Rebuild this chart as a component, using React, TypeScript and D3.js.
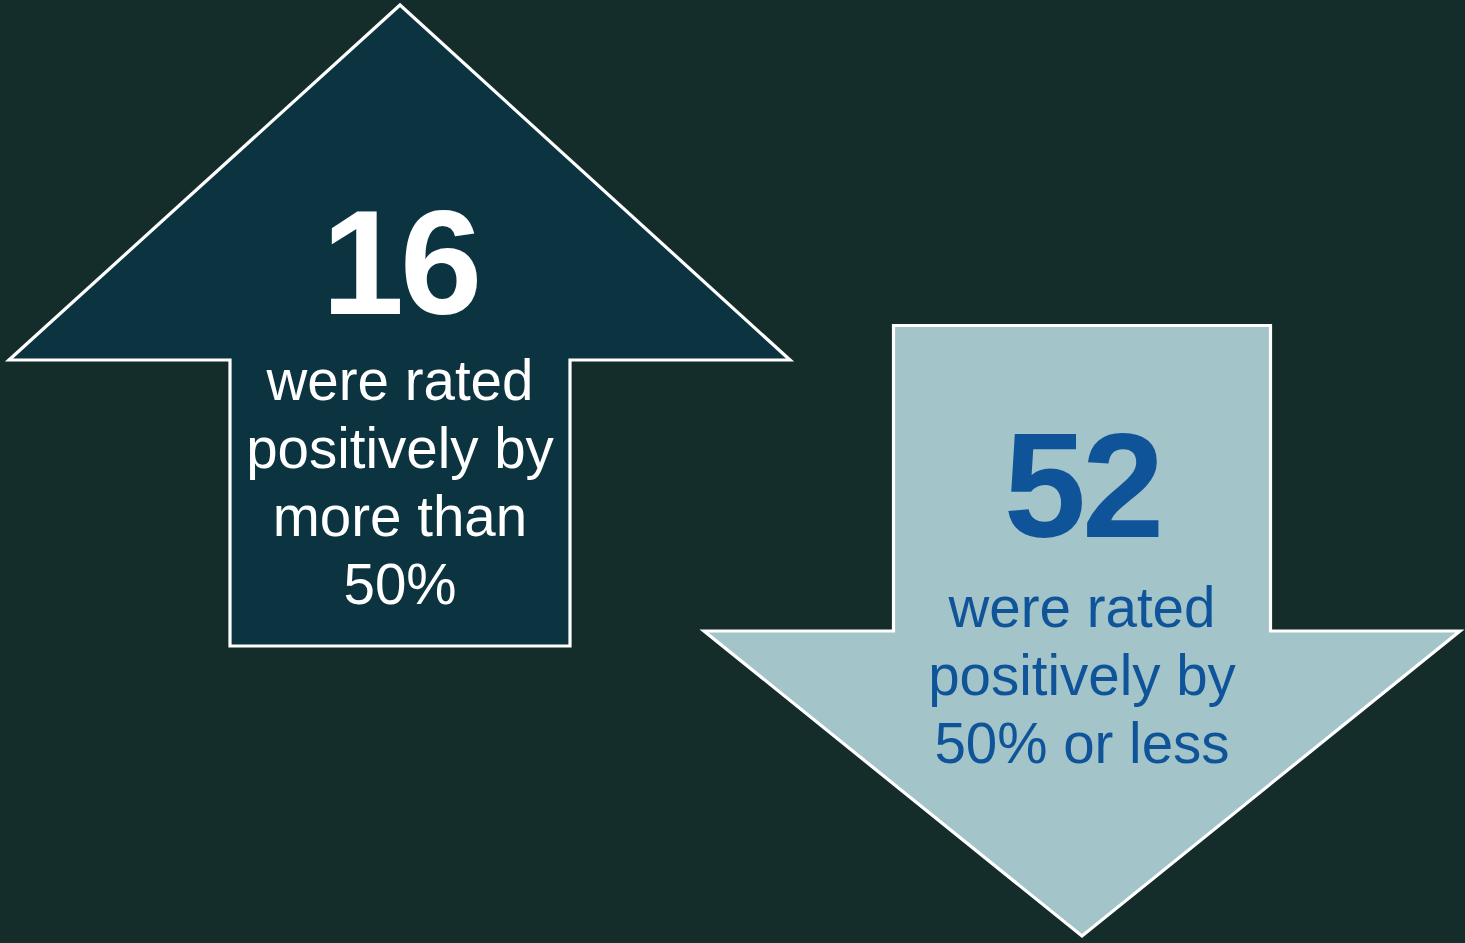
import React from "react";
import * as d3 from "d3";

const values = [16, 52];
const labels = [
  ["were rated", "positively by", "more than", "50%"],
  ["were rated", "positively by", "50% or less"],
];
const directions = ["up", "down"];

const W = 1465;
const H = 943;
const BG = "#152d2a";
const fills = ["#0c3440", "#a3c4c9"];
const textColors = ["#ffffff", "#0f5499"];

export default function App() {
  const up = d3.path();
  up.moveTo(400, 5);
  up.lineTo(790, 360);
  up.lineTo(570, 360);
  up.lineTo(570, 646);
  up.lineTo(230, 646);
  up.lineTo(230, 360);
  up.lineTo(9, 360);
  up.closePath();

  const down = d3.path();
  down.moveTo(893.5, 325.5);
  down.lineTo(1270.5, 325.5);
  down.lineTo(1270.5, 631);
  down.lineTo(1460, 631);
  down.lineTo(1082, 936);
  down.lineTo(704, 631);
  down.lineTo(893.5, 631);
  down.closePath();

  const paths = [up.toString(), down.toString()];
  const centers = [400, 1082];
  const numBase = [314, 537];
  const textBase = [[400, 468, 536, 604], [627, 695, 763]];

  return (
    <svg width={W} height={H} style={{ position: "absolute", left: 0, top: 0, background: BG }}>
      <rect width={W} height={H} fill={BG} />
      {values.map((v, i) => (
        <g key={directions[i]}>
          <path d={paths[i]} fill={fills[i]} stroke="#ffffff" strokeWidth={3.2} strokeLinejoin="miter" />
          <text
            x={centers[i]}
            y={numBase[i]}
            textAnchor="middle"
            fill={textColors[i]}
            fontFamily="Liberation Sans, Arial, sans-serif"
            fontWeight="bold"
            fontSize={148}
            letterSpacing={-4}
          >
            {v}
          </text>
          {labels[i].map((l, j) => (
            <text
              key={j}
              x={centers[i]}
              y={textBase[i][j]}
              textAnchor="middle"
              fill={textColors[i]}
              fontFamily="Liberation Sans, Arial, sans-serif"
              fontSize={56.5}
            >
              {l}
            </text>
          ))}
        </g>
      ))}
    </svg>
  );
}
